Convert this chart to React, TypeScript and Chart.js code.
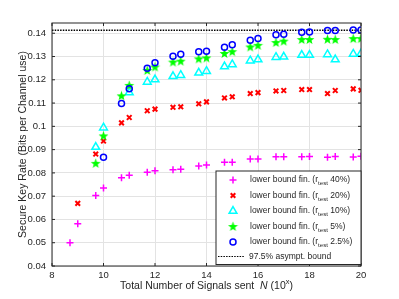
import React, { useEffect, useRef } from 'react';
import { Chart, registerables } from 'chart.js';

Chart.register(...registerables);

// x = log10(number of signals sent)
const xLog = [8.699, 9, 9.699, 10, 10.699, 11, 11.699, 12, 12.699, 13, 13.699, 14, 14.699, 15, 15.699, 16, 16.699, 17, 17.699, 18, 18.699, 19, 19.699, 20];

const r40 = [0.0500, 0.0582, 0.0703, 0.0735, 0.0779, 0.0790, 0.0803, 0.0809, 0.0813, 0.0816, 0.0830, 0.0834, 0.0846, 0.0846, 0.0860, 0.0860, 0.0869, 0.0869, 0.0869, 0.0870, 0.0867, 0.0870, 0.0868, 0.0871];
const r20 = [null, 0.0669, 0.0881, 0.0937, 0.1015, 0.1038, 0.1067, 0.1074, 0.1082, 0.1084, 0.1097, 0.1105, 0.1122, 0.1127, 0.1141, 0.1145, 0.1152, 0.1154, 0.1158, 0.1158, 0.1141, 0.1154, 0.1161, 0.1155];
const r10 = [null, null, 0.0911, 0.0994, null, 0.1145, 0.1191, 0.1201, 0.1215, 0.1220, 0.1230, 0.1237, 0.1257, 0.1266, 0.1282, 0.1287, 0.1297, 0.1299, 0.1306, 0.1306, 0.1309, 0.1287, 0.1311, 0.1313];
const r5 = [null, null, 0.0841, 0.0959, 0.1131, 0.1176, 0.1240, 0.1255, 0.1276, 0.1280, 0.1290, 0.1294, 0.1313, 0.1321, 0.1341, 0.1348, 0.1360, 0.1366, 0.1373, 0.1373, 0.1374, 0.1373, 0.1377, 0.1377];
const r2p5 = [null, null, null, 0.0867, 0.1098, 0.1161, 0.1250, 0.1273, 0.1301, 0.1310, 0.1320, 0.1323, 0.1340, 0.1351, 0.1370, 0.1377, 0.1393, 0.1396, 0.1404, 0.1405, 0.1412, 0.1412, 0.1414, 0.1414];

const asymptBound = 0.1413;
const boundRange = [8, 20];

const rTestLabels = ['40%', '20%', '10%', '5%', '2.5%'];
const boundLabel = '97.5% asympt. bound';

const xTicks = [8, 10, 12, 14, 16, 18, 20];
const xTickLabels = ['8', '10', '12', '14', '16', '18', '20'];
const yTicks = [0.04, 0.05, 0.06, 0.07, 0.08, 0.09, 0.1, 0.11, 0.12, 0.13, 0.14];
const yTickLabels = ['0.04', '0.05', '0.06', '0.07', '0.08', '0.09', '0.1', '0.11', '0.12', '0.13', '0.14'];

const FONT = "'Liberation Sans', Arial, Helvetica, sans-serif";
const AX = '#262626';

function toPoints(ys: (number | null)[]) {
  const out: { x: number; y: number }[] = [];
  ys.forEach((y, i) => {
    if (y !== null) out.push({ x: xLog[i], y });
  });
  return out;
}

function makeStar(color: string) {
  const c = document.createElement('canvas');
  c.width = 11;
  c.height = 11;
  const g = c.getContext('2d')!;
  const R = 5.2, r = 2.1, cx = 5.5, cy = 5.8;
  g.beginPath();
  for (let i = 0; i < 10; i++) {
    const ang = -Math.PI / 2 + (i * Math.PI) / 5;
    const rad = i % 2 === 0 ? R : r;
    const px = cx + Math.cos(ang) * rad;
    const py = cy + Math.sin(ang) * rad;
    if (i === 0) g.moveTo(px, py);
    else g.lineTo(px, py);
  }
  g.closePath();
  g.fillStyle = color;
  g.fill();
  return c;
}

export default function App() {
  const ref = useRef<HTMLCanvasElement | null>(null);

  useEffect(() => {
    if (!ref.current) return;
    const star = makeStar('#00ff00');

    const decor = {
      id: 'decor',
      afterDatasetsDraw(chart: any) {
        const { ctx, chartArea: a, scales } = chart;
        ctx.save();
        // box
        ctx.strokeStyle = AX;
        ctx.lineWidth = 1;
        ctx.strokeRect(a.left, a.top, a.right - a.left, a.bottom - a.top);
        const seg = (x1: number, y1: number, x2: number, y2: number) => {
          ctx.beginPath();
          ctx.moveTo(x1, y1);
          ctx.lineTo(x2, y2);
          ctx.stroke();
        };
        const tl = 3;
        xTicks.forEach((v) => {
          const px = scales.x.getPixelForValue(v);
          seg(px, a.bottom, px, a.bottom - tl);
          seg(px, a.top, px, a.top + tl);
        });
        yTicks.forEach((v) => {
          const py = scales.y.getPixelForValue(v);
          seg(a.left, py, a.left + tl, py);
          seg(a.right, py, a.right - tl, py);
        });

        // axis titles
        ctx.fillStyle = AX;
        ctx.textBaseline = 'alphabetic';
        ctx.textAlign = 'left';
        const tf = 10.5;
        const p1 = 'Total Number of Signals sent  ';
        const p2 = 'N';
        const p3 = ' (10';
        const p4 = 'x';
        const p5 = ')';
        ctx.font = `${tf}px ${FONT}`;
        const w1 = ctx.measureText(p1).width;
        const w3 = ctx.measureText(p3).width;
        const w5 = ctx.measureText(p5).width;
        ctx.font = `italic ${tf}px ${FONT}`;
        const w2 = ctx.measureText(p2).width;
        ctx.font = `${tf * 0.7}px ${FONT}`;
        const w4 = ctx.measureText(p4).width;
        const total = w1 + w2 + w3 + w4 + w5;
        let x0 = (a.left + a.right) / 2 - total / 2;
        const by = 289;
        ctx.font = `${tf}px ${FONT}`;
        ctx.fillText(p1, x0, by);
        x0 += w1;
        ctx.font = `italic ${tf}px ${FONT}`;
        ctx.fillText(p2, x0, by);
        x0 += w2;
        ctx.font = `${tf}px ${FONT}`;
        ctx.fillText(p3, x0, by);
        x0 += w3;
        ctx.font = `${tf * 0.7}px ${FONT}`;
        ctx.fillText(p4, x0, by - 5);
        x0 += w4;
        ctx.font = `${tf}px ${FONT}`;
        ctx.fillText(p5, x0, by);

        ctx.save();
        ctx.translate(23, (a.top + a.bottom) / 2);
        ctx.rotate(-Math.PI / 2);
        ctx.textAlign = 'center';
        ctx.textBaseline = 'middle';
        ctx.font = `${tf}px ${FONT}`;
        ctx.fillText('Secure Key Rate (Bits per Channel use)', 0, 0);
        ctx.restore();

        // legend
        const lx = 216, ly = 171, lw = a.right - 216, lh = 93.5;
        ctx.fillStyle = '#ffffff';
        ctx.fillRect(lx, ly, lw, lh);
        ctx.strokeStyle = AX;
        ctx.lineWidth = 1;
        ctx.strokeRect(lx, ly, lw, lh);
        const rows = [180, 195.5, 211, 226.5, 242, 256.5];
        const mx = 233, tx = 250;
        // markers
        // plus
        ctx.lineWidth = 1.5;
        ctx.strokeStyle = '#ff00ff';
        seg(mx - 3.5, rows[0], mx + 3.5, rows[0]);
        seg(mx, rows[0] - 3.5, mx, rows[0] + 3.5);
        // x
        ctx.strokeStyle = '#ff0000';
        ctx.lineWidth = 2;
        seg(mx - 2.3, rows[1] - 2.3, mx + 2.3, rows[1] + 2.3);
        seg(mx - 2.3, rows[1] + 2.3, mx + 2.3, rows[1] - 2.3);
        // triangle
        ctx.strokeStyle = '#00ffff';
        ctx.lineWidth = 1.5;
        ctx.beginPath();
        const tr = 4.5;
        for (let i = 0; i < 3; i++) {
          const ang = -Math.PI / 2 + (i * 2 * Math.PI) / 3;
          const px = mx + Math.cos(ang) * tr;
          const py = rows[2] + Math.sin(ang) * tr;
          if (i === 0) ctx.moveTo(px, py);
          else ctx.lineTo(px, py);
        }
        ctx.closePath();
        ctx.stroke();
        // star
        ctx.drawImage(star, mx - star.width / 2, rows[3] - star.height / 2);
        // circle
        ctx.strokeStyle = '#0000ff';
        ctx.lineWidth = 1.5;
        ctx.beginPath();
        ctx.arc(mx, rows[4], 3, 0, Math.PI * 2);
        ctx.stroke();
        // dotted line
        ctx.strokeStyle = '#000000';
        ctx.lineWidth = 1.2;
        ctx.setLineDash([1.5, 1.2]);
        seg(218, rows[5], 244, rows[5]);
        ctx.setLineDash([]);

        // texts
        const lf = 8.5;
        ctx.fillStyle = AX;
        ctx.textAlign = 'left';
        ctx.textBaseline = 'middle';
        rTestLabels.forEach((lab, i) => {
          let x = tx;
          const y = rows[i];
          ctx.font = `${lf}px ${FONT}`;
          const a1 = 'lower bound fin. (r';
          ctx.fillText(a1, x, y);
          x += ctx.measureText(a1).width;
          ctx.font = `${lf * 0.72}px ${FONT}`;
          ctx.fillText('test', x, y + 3.5);
          x += ctx.measureText('test').width;
          ctx.font = `${lf}px ${FONT}`;
          ctx.fillText(' ' + lab + ')', x, y);
        });
        ctx.font = `${lf}px ${FONT}`;
        ctx.fillText(boundLabel, 249, rows[5]);
        ctx.restore();
      },
    };

    const chart = new Chart(ref.current, {
      type: 'scatter',
      data: {
        datasets: [
          {
            type: 'line',
            label: boundLabel,
            data: boundRange.map((x) => ({ x, y: asymptBound })),
            borderColor: '#000000',
            borderWidth: 1.5,
            borderDash: [1.5, 1.2],
            pointRadius: 0,
            fill: false,
            order: 5,
          } as any,
          {
            label: rTestLabels[0],
            data: toPoints(r40),
            pointStyle: 'cross',
            pointRadius: 3.5,
            borderWidth: 1.5,
            borderColor: '#ff00ff',
            backgroundColor: '#ff00ff',
            order: 4,
          },
          {
            label: rTestLabels[1],
            data: toPoints(r20),
            pointStyle: 'crossRot',
            pointRadius: 3.3,
            borderWidth: 2,
            borderColor: '#ff0000',
            backgroundColor: '#ff0000',
            order: 3,
          },
          {
            label: rTestLabels[2],
            data: toPoints(r10),
            pointStyle: 'triangle',
            pointRadius: 4.5,
            borderWidth: 1.5,
            borderColor: '#00ffff',
            backgroundColor: 'rgba(0,0,0,0)',
            order: 2,
          },
          {
            label: rTestLabels[3],
            data: toPoints(r5),
            pointStyle: star,
            pointRadius: 5,
            borderWidth: 0,
            borderColor: '#00ff00',
            backgroundColor: '#00ff00',
            order: 1,
          },
          {
            label: rTestLabels[4],
            data: toPoints(r2p5),
            pointStyle: 'circle',
            pointRadius: 3,
            borderWidth: 1.5,
            borderColor: '#0000ff',
            backgroundColor: 'rgba(0,0,0,0)',
            order: 0,
          },
        ],
      },
      options: {
        animation: false,
        responsive: false,
        layout: { padding: { top: 23, right: 38, left: 0, bottom: 0 } },
        plugins: { legend: { display: false }, tooltip: { enabled: false } },
        scales: {
          x: {
            type: 'linear',
            min: 8,
            max: 20,
            afterBuildTicks: (s: any) => {
              s.ticks = xTicks.map((v) => ({ value: v }));
            },
            afterFit: (s: any) => {
              s.height = 33;
            },
            ticks: {
              padding: 4,
              color: AX,
              font: { family: FONT, size: 9.5 },
              maxRotation: 0,
              callback: (_v: any, i: number) => xTickLabels[i],
            },
            grid: { color: '#e3e3e3', drawTicks: false, lineWidth: 1 },
            border: { display: false },
          },
          y: {
            type: 'linear',
            min: 0.04,
            max: 0.1444,
            afterBuildTicks: (s: any) => {
              s.ticks = yTicks.map((v) => ({ value: v }));
            },
            afterFit: (s: any) => {
              s.width = 52;
            },
            ticks: {
              padding: 6,
              color: AX,
              font: { family: FONT, size: 9.5 },
              callback: (_v: any, i: number) => yTickLabels[i],
            },
            grid: { color: '#e3e3e3', drawTicks: false, lineWidth: 1 },
            border: { display: false },
          },
        },
      },
      plugins: [decor],
    });
    return () => chart.destroy();
  }, []);

  return (
    <div style={{ position: 'absolute', left: 0, top: 0, width: 399, height: 299, background: '#ffffff' }}>
      <canvas ref={ref} width={399} height={299} />
    </div>
  );
}
